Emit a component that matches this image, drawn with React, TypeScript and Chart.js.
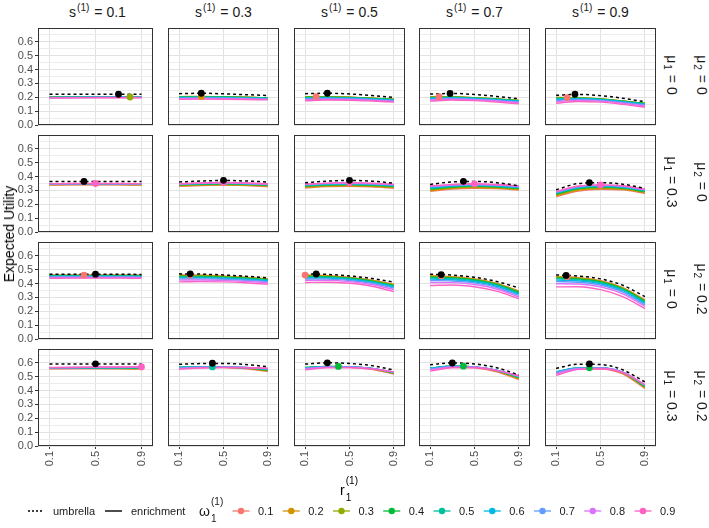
import React, { useEffect, useRef } from 'react';
import { Chart, registerables } from 'chart.js';
Chart.register(...registerables);

// ---------------- data ----------------
const R_GRID = [0.1, 0.3, 0.5, 0.7, 0.9];
const X_TICKS = [0.1, 0.5, 0.9];
const Y_GRID = [0, 0.05, 0.1, 0.15, 0.2, 0.25, 0.3, 0.35, 0.4, 0.45, 0.5, 0.55, 0.6, 0.65, 0.7];
const Y_LABELED = [0, 0.1, 0.2, 0.3, 0.4, 0.5, 0.6];
const S_LABELS = ['0.1', '0.3', '0.5', '0.7', '0.9'];
const MU1_LABELS = ['0', '0.3', '0', '0.3'];
const MU2_LABELS = ['0', '0', '0.2', '0.2'];
const OMEGA_LABELS = ['0.1', '0.2', '0.3', '0.4', '0.5', '0.6', '0.7', '0.8', '0.9'];
const OMEGA_COLORS = ['#F8766D', '#D39200', '#93AA00', '#00BA38', '#00C19F', '#00B9E3', '#619CFF', '#DB72FB', '#FF61C3'];

// umbrella curves, one row of panels per array (columns s = 0.1 ... 0.9), values at R_GRID
const umb_row1 = [
  [0.222, 0.222, 0.222, 0.222, 0.222],
  [0.226, 0.229, 0.225, 0.219, 0.213],
  [0.226, 0.229, 0.224, 0.213, 0.199],
  [0.223, 0.228, 0.220, 0.206, 0.189],
  [0.214, 0.221, 0.212, 0.193, 0.168],
];
const umb_row2 = [
  [0.364, 0.365, 0.365, 0.365, 0.364],
  [0.361, 0.368, 0.372, 0.368, 0.361],
  [0.356, 0.367, 0.372, 0.367, 0.352],
  [0.343, 0.362, 0.365, 0.356, 0.334],
  [0.305, 0.350, 0.356, 0.345, 0.315],
];
const umb_row3 = [
  [0.467, 0.467, 0.467, 0.467, 0.466],
  [0.470, 0.468, 0.462, 0.453, 0.441],
  [0.470, 0.466, 0.455, 0.437, 0.410],
  [0.468, 0.461, 0.445, 0.415, 0.369],
  [0.462, 0.454, 0.434, 0.388, 0.306],
];
const umb_row4 = [
  [0.591, 0.592, 0.592, 0.592, 0.591],
  [0.590, 0.595, 0.596, 0.588, 0.572],
  [0.591, 0.600, 0.596, 0.580, 0.548],
  [0.587, 0.599, 0.592, 0.565, 0.513],
  [0.560, 0.590, 0.588, 0.550, 0.462],
];

// enrichment curves: per panel, one array per omega (0.1 ... 0.9), values at R_GRID
const enr_r1_c1 = [
  [0.199, 0.200, 0.201, 0.201, 0.201],
  [0.200, 0.201, 0.201, 0.202, 0.202],
  [0.200, 0.201, 0.202, 0.202, 0.202],
  [0.200, 0.201, 0.201, 0.202, 0.201],
  [0.199, 0.200, 0.201, 0.201, 0.201],
  [0.198, 0.199, 0.200, 0.200, 0.200],
  [0.197, 0.198, 0.199, 0.199, 0.199],
  [0.196, 0.197, 0.198, 0.198, 0.198],
  [0.195, 0.196, 0.197, 0.197, 0.197],
];
const enr_r1_c2 = [
  [0.205, 0.205, 0.203, 0.199, 0.195],
  [0.205, 0.206, 0.204, 0.200, 0.196],
  [0.204, 0.205, 0.203, 0.200, 0.196],
  [0.202, 0.203, 0.202, 0.199, 0.195],
  [0.200, 0.201, 0.200, 0.197, 0.193],
  [0.197, 0.198, 0.197, 0.195, 0.191],
  [0.194, 0.195, 0.194, 0.192, 0.188],
  [0.190, 0.191, 0.190, 0.188, 0.185],
  [0.185, 0.187, 0.186, 0.184, 0.181],
];
const enr_r1_c3 = [
  [0.205, 0.205, 0.200, 0.193, 0.185],
  [0.204, 0.204, 0.200, 0.193, 0.186],
  [0.202, 0.203, 0.199, 0.193, 0.185],
  [0.200, 0.201, 0.198, 0.192, 0.184],
  [0.197, 0.198, 0.196, 0.190, 0.182],
  [0.193, 0.195, 0.193, 0.187, 0.179],
  [0.188, 0.191, 0.189, 0.183, 0.175],
  [0.182, 0.186, 0.184, 0.178, 0.170],
  [0.175, 0.180, 0.179, 0.173, 0.165],
];
const enr_r1_c4 = [
  [0.204, 0.203, 0.197, 0.187, 0.176],
  [0.203, 0.203, 0.197, 0.188, 0.177],
  [0.201, 0.202, 0.197, 0.188, 0.177],
  [0.199, 0.200, 0.196, 0.187, 0.176],
  [0.196, 0.198, 0.194, 0.185, 0.174],
  [0.192, 0.195, 0.191, 0.182, 0.171],
  [0.187, 0.191, 0.187, 0.178, 0.167],
  [0.180, 0.186, 0.182, 0.173, 0.161],
  [0.172, 0.180, 0.176, 0.166, 0.153],
];
const enr_r1_c5 = [
  [0.199, 0.196, 0.187, 0.172, 0.155],
  [0.198, 0.197, 0.188, 0.173, 0.156],
  [0.196, 0.196, 0.188, 0.173, 0.156],
  [0.193, 0.194, 0.187, 0.172, 0.155],
  [0.189, 0.192, 0.185, 0.170, 0.152],
  [0.184, 0.188, 0.182, 0.167, 0.149],
  [0.177, 0.184, 0.178, 0.163, 0.144],
  [0.168, 0.178, 0.172, 0.157, 0.137],
  [0.157, 0.170, 0.165, 0.149, 0.128],
];
const enr_r2_c1 = [
  [0.339, 0.340, 0.340, 0.340, 0.338],
  [0.341, 0.342, 0.342, 0.342, 0.340],
  [0.343, 0.344, 0.344, 0.344, 0.342],
  [0.344, 0.345, 0.345, 0.345, 0.344],
  [0.345, 0.346, 0.346, 0.346, 0.345],
  [0.346, 0.347, 0.347, 0.347, 0.346],
  [0.347, 0.348, 0.348, 0.348, 0.347],
  [0.348, 0.349, 0.349, 0.349, 0.348],
  [0.349, 0.350, 0.350, 0.350, 0.349],
];
const enr_r2_c2 = [
  [0.330, 0.336, 0.338, 0.335, 0.328],
  [0.334, 0.339, 0.341, 0.338, 0.332],
  [0.337, 0.342, 0.344, 0.341, 0.335],
  [0.340, 0.345, 0.347, 0.344, 0.338],
  [0.342, 0.347, 0.349, 0.346, 0.340],
  [0.344, 0.349, 0.351, 0.348, 0.342],
  [0.346, 0.351, 0.353, 0.350, 0.344],
  [0.347, 0.353, 0.355, 0.352, 0.346],
  [0.348, 0.354, 0.357, 0.354, 0.348],
];
const enr_r2_c3 = [
  [0.318, 0.328, 0.330, 0.326, 0.316],
  [0.323, 0.332, 0.334, 0.330, 0.320],
  [0.328, 0.336, 0.338, 0.334, 0.325],
  [0.332, 0.340, 0.342, 0.338, 0.329],
  [0.336, 0.343, 0.345, 0.341, 0.333],
  [0.339, 0.346, 0.348, 0.344, 0.336],
  [0.342, 0.349, 0.351, 0.347, 0.339],
  [0.344, 0.351, 0.354, 0.350, 0.342],
  [0.346, 0.353, 0.356, 0.352, 0.345],
];
const enr_r2_c4 = [
  [0.293, 0.310, 0.316, 0.313, 0.303],
  [0.299, 0.315, 0.321, 0.317, 0.307],
  [0.305, 0.320, 0.326, 0.322, 0.311],
  [0.311, 0.325, 0.331, 0.326, 0.315],
  [0.316, 0.330, 0.335, 0.330, 0.319],
  [0.320, 0.334, 0.339, 0.334, 0.323],
  [0.325, 0.337, 0.342, 0.337, 0.327],
  [0.329, 0.341, 0.345, 0.340, 0.330],
  [0.332, 0.344, 0.348, 0.343, 0.333],
];
const enr_r2_c5 = [
  [0.255, 0.296, 0.309, 0.304, 0.280],
  [0.262, 0.302, 0.314, 0.308, 0.285],
  [0.268, 0.308, 0.319, 0.313, 0.289],
  [0.274, 0.313, 0.324, 0.317, 0.293],
  [0.279, 0.318, 0.328, 0.321, 0.297],
  [0.283, 0.322, 0.332, 0.325, 0.300],
  [0.287, 0.326, 0.335, 0.328, 0.303],
  [0.290, 0.329, 0.338, 0.331, 0.306],
  [0.293, 0.332, 0.340, 0.334, 0.309],
];
const enr_r3_c1 = [
  [0.461, 0.461, 0.461, 0.461, 0.460],
  [0.460, 0.460, 0.460, 0.460, 0.459],
  [0.458, 0.459, 0.459, 0.459, 0.458],
  [0.456, 0.457, 0.457, 0.457, 0.456],
  [0.454, 0.455, 0.455, 0.454, 0.454],
  [0.451, 0.452, 0.452, 0.451, 0.451],
  [0.447, 0.448, 0.448, 0.448, 0.447],
  [0.443, 0.444, 0.444, 0.444, 0.443],
  [0.438, 0.439, 0.439, 0.439, 0.438],
];
const enr_r3_c2 = [
  [0.462, 0.460, 0.454, 0.445, 0.434],
  [0.460, 0.458, 0.452, 0.444, 0.433],
  [0.456, 0.455, 0.450, 0.442, 0.431],
  [0.452, 0.451, 0.446, 0.439, 0.428],
  [0.447, 0.446, 0.442, 0.435, 0.425],
  [0.441, 0.441, 0.437, 0.430, 0.420],
  [0.434, 0.434, 0.431, 0.424, 0.414],
  [0.425, 0.426, 0.423, 0.416, 0.406],
  [0.412, 0.414, 0.412, 0.406, 0.395],
];
const enr_r3_c3 = [
  [0.461, 0.456, 0.444, 0.424, 0.394],
  [0.459, 0.455, 0.443, 0.423, 0.393],
  [0.456, 0.452, 0.441, 0.421, 0.390],
  [0.452, 0.449, 0.438, 0.418, 0.386],
  [0.447, 0.444, 0.434, 0.414, 0.382],
  [0.441, 0.439, 0.429, 0.409, 0.376],
  [0.433, 0.432, 0.422, 0.402, 0.368],
  [0.423, 0.423, 0.414, 0.393, 0.357],
  [0.408, 0.410, 0.402, 0.381, 0.342],
];
const enr_r3_c4 = [
  [0.457, 0.449, 0.434, 0.401, 0.346],
  [0.455, 0.448, 0.432, 0.400, 0.345],
  [0.451, 0.445, 0.430, 0.397, 0.341],
  [0.446, 0.441, 0.426, 0.393, 0.337],
  [0.440, 0.435, 0.420, 0.388, 0.331],
  [0.432, 0.428, 0.413, 0.381, 0.324],
  [0.422, 0.419, 0.405, 0.372, 0.315],
  [0.408, 0.407, 0.393, 0.361, 0.303],
  [0.386, 0.390, 0.377, 0.345, 0.290],
];
const enr_r3_c5 = [
  [0.452, 0.441, 0.420, 0.370, 0.283],
  [0.450, 0.440, 0.419, 0.369, 0.281],
  [0.446, 0.437, 0.416, 0.366, 0.277],
  [0.441, 0.433, 0.412, 0.362, 0.272],
  [0.434, 0.427, 0.406, 0.356, 0.265],
  [0.425, 0.419, 0.399, 0.349, 0.257],
  [0.414, 0.410, 0.390, 0.339, 0.247],
  [0.399, 0.397, 0.377, 0.326, 0.235],
  [0.376, 0.377, 0.356, 0.306, 0.220],
];
const enr_r4_c1 = [
  [0.557, 0.558, 0.558, 0.557, 0.555],
  [0.559, 0.560, 0.560, 0.559, 0.557],
  [0.561, 0.562, 0.562, 0.561, 0.560],
  [0.562, 0.563, 0.563, 0.563, 0.562],
  [0.563, 0.564, 0.565, 0.564, 0.564],
  [0.564, 0.565, 0.566, 0.566, 0.566],
  [0.565, 0.566, 0.567, 0.567, 0.568],
  [0.565, 0.567, 0.568, 0.569, 0.570],
  [0.566, 0.567, 0.569, 0.570, 0.571],
];
const enr_r4_c2 = [
  [0.562, 0.567, 0.566, 0.557, 0.538],
  [0.565, 0.569, 0.568, 0.560, 0.542],
  [0.567, 0.570, 0.569, 0.562, 0.546],
  [0.568, 0.571, 0.570, 0.564, 0.549],
  [0.568, 0.571, 0.570, 0.565, 0.552],
  [0.567, 0.570, 0.570, 0.566, 0.555],
  [0.564, 0.568, 0.569, 0.566, 0.557],
  [0.560, 0.566, 0.568, 0.566, 0.559],
  [0.554, 0.563, 0.566, 0.565, 0.561],
];
const enr_r4_c3 = [
  [0.560, 0.571, 0.568, 0.553, 0.519],
  [0.563, 0.573, 0.570, 0.556, 0.523],
  [0.565, 0.574, 0.571, 0.558, 0.526],
  [0.566, 0.574, 0.572, 0.559, 0.528],
  [0.566, 0.574, 0.572, 0.560, 0.530],
  [0.564, 0.573, 0.571, 0.560, 0.532],
  [0.561, 0.571, 0.570, 0.559, 0.533],
  [0.556, 0.568, 0.568, 0.558, 0.534],
  [0.549, 0.564, 0.565, 0.556, 0.535],
];
const enr_r4_c4 = [
  [0.553, 0.570, 0.565, 0.536, 0.480],
  [0.557, 0.573, 0.568, 0.540, 0.485],
  [0.560, 0.575, 0.570, 0.543, 0.490],
  [0.562, 0.576, 0.571, 0.545, 0.494],
  [0.563, 0.576, 0.571, 0.546, 0.497],
  [0.562, 0.575, 0.571, 0.547, 0.500],
  [0.558, 0.573, 0.570, 0.547, 0.503],
  [0.551, 0.570, 0.568, 0.546, 0.505],
  [0.540, 0.565, 0.565, 0.544, 0.507],
];
const enr_r4_c5 = [
  [0.520, 0.556, 0.556, 0.520, 0.415],
  [0.526, 0.560, 0.560, 0.525, 0.421],
  [0.531, 0.562, 0.562, 0.528, 0.426],
  [0.534, 0.564, 0.564, 0.531, 0.430],
  [0.536, 0.564, 0.564, 0.532, 0.434],
  [0.535, 0.563, 0.564, 0.533, 0.437],
  [0.531, 0.561, 0.563, 0.533, 0.440],
  [0.523, 0.558, 0.561, 0.532, 0.442],
  [0.510, 0.553, 0.558, 0.530, 0.443],
];

// optimum markers, panels in row-major order
const UMB_OPT_R = [0.70, 0.30, 0.30, 0.28, 0.27, 0.40, 0.50, 0.50, 0.40, 0.40, 0.50, 0.20, 0.20, 0.20, 0.19, 0.50, 0.40, 0.30, 0.30, 0.40];
const UMB_OPT_Y = [0.222, 0.229, 0.229, 0.228, 0.222, 0.365, 0.373, 0.373, 0.366, 0.357, 0.468, 0.470, 0.469, 0.465, 0.459, 0.593, 0.597, 0.600, 0.599, 0.593];
const ENR_OPT_R = [0.80, 0.30, 0.20, 0.18, 0.20, 0.50, 0.50, 0.50, 0.50, 0.50, 0.40, 0.20, 0.10, 0.20, 0.20, 0.90, 0.40, 0.40, 0.40, 0.40];
const ENR_OPT_Y = [0.202, 0.206, 0.205, 0.204, 0.198, 0.350, 0.357, 0.356, 0.348, 0.340, 0.461, 0.462, 0.461, 0.455, 0.449, 0.571, 0.571, 0.574, 0.576, 0.564];
const ENR_OPT_W = [2, 1, 0, 0, 0, 8, 8, 8, 8, 8, 0, 0, 0, 0, 0, 8, 4, 3, 3, 3];

const UMB_ROWS = [umb_row1, umb_row2, umb_row3, umb_row4];
const ENR_PANELS = [
  [enr_r1_c1, enr_r1_c2, enr_r1_c3, enr_r1_c4, enr_r1_c5],
  [enr_r2_c1, enr_r2_c2, enr_r2_c3, enr_r2_c4, enr_r2_c5],
  [enr_r3_c1, enr_r3_c2, enr_r3_c3, enr_r3_c4, enr_r3_c5],
  [enr_r4_c1, enr_r4_c2, enr_r4_c3, enr_r4_c4, enr_r4_c5],
];

// ---------------- layout ----------------
const FONT = "'Liberation Sans', Arial, Helvetica, sans-serif";
const LEFTS = [38, 164, 290, 415, 541];
const TOPS = [24, 131, 238, 345];
const PW = 119;
const PH = 101;

const near = (a: number, b: number) => Math.abs(a - b) < 1e-9;
const isLabeled = (v: number) => Y_LABELED.some((t) => near(t, v));

const framePlugin = {
  id: 'frame',
  afterDraw(chart: any) {
    const { ctx, chartArea: a } = chart;
    ctx.save();
    ctx.strokeStyle = '#333333';
    ctx.lineWidth = 1;
    ctx.strokeRect(a.left + 0.5, a.top + 0.5, a.right - a.left - 1, a.bottom - a.top - 1);
    ctx.restore();
  },
};

function Panel({ row, col }: { row: number; col: number }) {
  const ref = useRef<HTMLCanvasElement | null>(null);
  const padL = col === 0 ? 38 : 0;
  const padB = row === 3 ? 30 : 8;
  useEffect(() => {
    const idx = row * 5 + col;
    const toXY = (arr: number[]) => R_GRID.map((r, i) => ({ x: r, y: arr[i] }));
    const enr = ENR_PANELS[row][col];
    const datasets: any[] = [
      {
        data: [{ x: UMB_OPT_R[idx], y: UMB_OPT_Y[idx] }],
        showLine: false,
        pointRadius: 3.4,
        pointBorderWidth: 0,
        pointBackgroundColor: '#000000',
        borderColor: '#000000',
      },
      {
        data: [{ x: ENR_OPT_R[idx], y: ENR_OPT_Y[idx] }],
        showLine: false,
        pointRadius: 3.4,
        pointBorderWidth: 0,
        pointBackgroundColor: OMEGA_COLORS[ENR_OPT_W[idx]],
        borderColor: OMEGA_COLORS[ENR_OPT_W[idx]],
      },
      {
        data: toXY(UMB_ROWS[row][col]),
        borderColor: '#000000',
        borderWidth: 1.5,
        borderDash: [3, 3],
        pointRadius: 0,
        cubicInterpolationMode: 'monotone',
        fill: false,
      },
    ];
    for (let w = OMEGA_LABELS.length - 1; w >= 0; w--) {
      datasets.push({
        data: toXY(enr[w]),
        borderColor: OMEGA_COLORS[w],
        borderWidth: 1.4,
        pointRadius: 0,
        cubicInterpolationMode: 'monotone',
        fill: false,
      });
    }
    const tickFont = { family: FONT, size: 11 };
    const chart = new Chart(ref.current as HTMLCanvasElement, {
      type: 'line',
      data: { datasets },
      options: {
        animation: false,
        responsive: false,
        maintainAspectRatio: false,
        devicePixelRatio: 1,
        events: [],
        layout: { padding: 0 },
        plugins: { legend: { display: false }, tooltip: { enabled: false } },
        scales: {
          x: {
            type: 'linear',
            min: 0,
            max: 1,
            afterBuildTicks: (s: any) => {
              s.ticks = X_TICKS.map((v) => ({ value: v }));
            },
            afterFit: (s: any) => {
              s.height = padB;
              s.paddingLeft = 0;
              s.paddingRight = 0;
              s.paddingTop = 0;
              s.paddingBottom = 0;
            },
            border: { display: false },
            grid: {
              color: '#E2E2E2',
              lineWidth: 1,
              drawTicks: row === 3,
              tickLength: 3,
              tickColor: '#333333',
            },
            ticks: {
              display: row === 3,
              autoSkip: false,
              minRotation: 90,
              maxRotation: 90,
              padding: 2,
              color: '#4D4D4D',
              font: tickFont,
              callback: (v: any) => Number(v).toFixed(1),
            },
          },
          y: {
            type: 'linear',
            min: 0,
            max: 0.7,
            afterBuildTicks: (s: any) => {
              s.ticks = Y_GRID.map((v) => ({ value: v }));
            },
            afterFit: (s: any) => {
              s.width = padL;
              s.paddingTop = 0;
              s.paddingBottom = 0;
              s.paddingLeft = 0;
              s.paddingRight = 0;
            },
            border: { display: false },
            grid: {
              color: (c: any) => (c.tick && isLabeled(c.tick.value) ? '#E2E2E2' : '#ECECEC'),
              lineWidth: 1,
              drawTicks: col === 0,
              tickLength: 3,
              tickColor: (c: any) => (c.tick && isLabeled(c.tick.value) ? '#333333' : 'rgba(0,0,0,0)'),
            },
            ticks: {
              display: col === 0,
              autoSkip: false,
              padding: 2,
              color: '#4D4D4D',
              font: tickFont,
              callback: (v: any) => {
                const hit = Y_LABELED.find((t) => near(t, Number(v)));
                return hit === undefined ? '' : hit.toFixed(1);
              },
            },
          },
        },
      } as any,
      plugins: [framePlugin],
    });
    return () => chart.destroy();
  }, [row, col]);
  return (
    <canvas
      ref={ref}
      width={padL + PW}
      height={PH + padB}
      style={{
        position: 'absolute',
        left: LEFTS[col] - padL,
        top: TOPS[row],
        width: padL + PW,
        height: PH + padB,
      }}
    />
  );
}

const Sup = ({ children }: any) => (
  <span style={{ fontSize: '0.72em', position: 'relative', top: '-0.55em', margin: '0 1px' }}>{children}</span>
);
const Sub = ({ children }: any) => (
  <span style={{ fontSize: '0.72em', position: 'relative', top: '0.3em', margin: '0 1px' }}>{children}</span>
);
const SubSup = ({ sub, sup }: any) => (
  <span
    style={{
      display: 'inline-flex',
      flexDirection: 'column',
      fontSize: '0.72em',
      lineHeight: 1,
      verticalAlign: 'middle',
      marginLeft: 1,
      textAlign: 'left',
    }}
  >
    <span style={{ position: 'relative', top: '-0.35em' }}>{sup}</span>
    <span style={{ position: 'relative', top: '0.25em' }}>{sub}</span>
  </span>
);

export default function App() {
  const panels: any[] = [];
  for (let r = 0; r < 4; r++) for (let c = 0; c < 5; c++) panels.push(<Panel key={`${r}-${c}`} row={r} col={c} />);
  const rowCenter = (r: number) => TOPS[r] + PH / 2;
  const legendX0 = 241;
  const legendStep = 50.25;
  const legendY = 511;
  return (
    <div
      style={{
        position: 'fixed',
        left: 0,
        top: 0,
        width: 709,
        height: 528,
        background: '#FFFFFF',
        fontFamily: FONT,
        color: '#1A1A1A',
        overflow: 'hidden',
      }}
    >
      {panels}
      {S_LABELS.map((s, c) => (
        <div
          key={'s' + c}
          style={{
            position: 'absolute',
            left: LEFTS[c],
            width: PW,
            top: 2,
            height: 20,
            lineHeight: '20px',
            textAlign: 'center',
            fontSize: 14,
            whiteSpace: 'nowrap',
          }}
        >
          s<Sup>(1)</Sup> = {s}
        </div>
      ))}
      {MU1_LABELS.map((m, r) => (
        <div
          key={'m1' + r}
          style={{
            position: 'absolute',
            left: 672,
            top: rowCenter(r),
            transform: 'translate(-50%, -50%) rotate(90deg)',
            fontSize: 14,
            whiteSpace: 'nowrap',
          }}
        >
          μ<Sub>1</Sub> = {m}
        </div>
      ))}
      {MU2_LABELS.map((m, r) => (
        <div
          key={'m2' + r}
          style={{
            position: 'absolute',
            left: 702,
            top: rowCenter(r),
            transform: 'translate(-50%, -50%) rotate(90deg)',
            fontSize: 14,
            whiteSpace: 'nowrap',
          }}
        >
          μ<Sub>2</Sub> = {m}
        </div>
      ))}
      <div
        style={{
          position: 'absolute',
          left: 9,
          top: 234,
          transform: 'translate(-50%, -50%) rotate(-90deg)',
          fontSize: 14,
          whiteSpace: 'nowrap',
          color: '#000',
        }}
      >
        Expected Utility
      </div>
      <div
        style={{
          position: 'absolute',
          left: 349,
          top: 490,
          transform: 'translate(-50%, -50%)',
          fontSize: 14,
          whiteSpace: 'nowrap',
          color: '#000',
          display: 'flex',
          alignItems: 'center',
        }}
      >
        <span>r</span>
        <SubSup sub="1" sup="(1)" />
      </div>
      {/* legend */}
      <svg style={{ position: 'absolute', left: 0, top: legendY - 10 }} width={709} height={20}>
        <line x1={28} x2={43} y1={10} y2={10} stroke="#000" strokeWidth={1.3} strokeDasharray="2 2" />
        <line x1={105} x2={122} y1={10} y2={10} stroke="#000" strokeWidth={1.4} />
        {OMEGA_COLORS.map((col, i) => {
          const cx = legendX0 + i * legendStep;
          return (
            <g key={'lk' + i}>
              <line x1={cx - 8.5} x2={cx + 8.5} y1={10} y2={10} stroke={col} strokeWidth={1.3} />
              <circle cx={cx} cy={10} r={3.2} fill={col} />
            </g>
          );
        })}
      </svg>
      <div style={{ position: 'absolute', left: 53, top: legendY - 8, fontSize: 11, lineHeight: '16px', whiteSpace: 'nowrap' }}>umbrella</div>
      <div style={{ position: 'absolute', left: 131, top: legendY - 8, fontSize: 11, lineHeight: '16px', whiteSpace: 'nowrap' }}>enrichment</div>
      <div
        style={{
          position: 'absolute',
          left: 199,
          top: legendY,
          transform: 'translateY(-50%)',
          fontSize: 14,
          whiteSpace: 'nowrap',
          display: 'flex',
          alignItems: 'center',
        }}
      >
        <span>ω</span>
        <SubSup sub="1" sup="(1)" />
      </div>
      {OMEGA_LABELS.map((lab, i) => (
        <div
          key={'lt' + i}
          style={{
            position: 'absolute',
            left: legendX0 + i * legendStep + 17,
            top: legendY - 8,
            fontSize: 11,
            lineHeight: '16px',
            whiteSpace: 'nowrap',
          }}
        >
          {lab}
        </div>
      ))}
    </div>
  );
}
